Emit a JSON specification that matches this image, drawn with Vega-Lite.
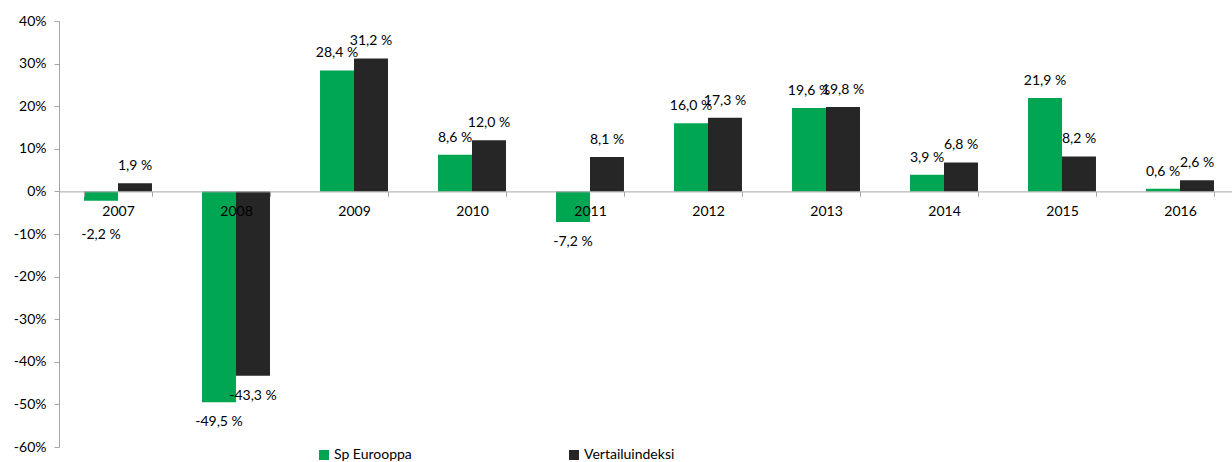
{
  "$schema": "https://vega.github.io/schema/vega-lite/v6.json",
  "autosize": {"type": "none"},
  "padding": {"left": 59, "top": 21, "right": 0, "bottom": 15},
  "width": 1180,
  "height": 426,
  "background": "white",
  "config": {
    "view": {"stroke": null},
    "font": "Lato",
    "text": {"font": "Lato", "fontSize": 14, "color": "#000000"}
  },
  "data": {
    "values": [
      {"year": "2007", "series": "Sp Eurooppa", "v": -2.2},
      {"year": "2007", "series": "Vertailuindeksi", "v": 1.9},
      {"year": "2008", "series": "Sp Eurooppa", "v": -49.5},
      {"year": "2008", "series": "Vertailuindeksi", "v": -43.3},
      {"year": "2009", "series": "Sp Eurooppa", "v": 28.4},
      {"year": "2009", "series": "Vertailuindeksi", "v": 31.2},
      {"year": "2010", "series": "Sp Eurooppa", "v": 8.6},
      {"year": "2010", "series": "Vertailuindeksi", "v": 12.0},
      {"year": "2011", "series": "Sp Eurooppa", "v": -7.2},
      {"year": "2011", "series": "Vertailuindeksi", "v": 8.1},
      {"year": "2012", "series": "Sp Eurooppa", "v": 16.0},
      {"year": "2012", "series": "Vertailuindeksi", "v": 17.3},
      {"year": "2013", "series": "Sp Eurooppa", "v": 19.6},
      {"year": "2013", "series": "Vertailuindeksi", "v": 19.8},
      {"year": "2014", "series": "Sp Eurooppa", "v": 3.9},
      {"year": "2014", "series": "Vertailuindeksi", "v": 6.8},
      {"year": "2015", "series": "Sp Eurooppa", "v": 21.9},
      {"year": "2015", "series": "Vertailuindeksi", "v": 8.2},
      {"year": "2016", "series": "Sp Eurooppa", "v": 0.6},
      {"year": "2016", "series": "Vertailuindeksi", "v": 2.6}
    ]
  },
  "transform": [
    {"calculate": "(datum.v < 0 ? '-' : '') + replace(format(abs(datum.v), '.1f'), '.', ',') + ' %'", "as": "label"}
  ],
  "encoding": {
    "x": {
      "field": "year", "type": "nominal", "sort": null,
      "scale": {"paddingInner": 0.424, "paddingOuter": 0.212},
      "axis": {
        "title": null, "orient": "bottom", "offset": -255.6,
        "labelAngle": 0, "labelFont": "Lato", "labelFontSize": 14, "labelColor": "#000000",
        "domainColor": "#A6A6A6", "tickColor": "#A6A6A6", "tickSize": 5,
        "tickBand": "extent", "labelPadding": 8, "zindex": 1
      }
    },
    "xOffset": {"field": "series", "type": "nominal", "sort": ["Sp Eurooppa", "Vertailuindeksi"], "scale": {"paddingInner": 0, "paddingOuter": 0}},
    "y": {
      "field": "v", "type": "quantitative",
      "scale": {"domain": [-60, 40], "nice": false},
      "axis": {
        "title": null, "values": [-60, -50, -40, -30, -20, -10, 0, 10, 20, 30, 40],
        "labelExpr": "round(datum.value) + '%'",
        "grid": false, "labelFont": "Lato", "labelFontSize": 14, "labelColor": "#000000",
        "domainColor": "#A6A6A6", "tickColor": "#A6A6A6", "tickSize": 5, "labelPadding": 8
      }
    }
  },
  "layer": [
    {
      "mark": {"type": "bar"},
      "encoding": {
        "color": {
          "field": "series", "type": "nominal",
          "scale": {"domain": ["Sp Eurooppa", "Vertailuindeksi"], "range": ["#00A651", "#262626"]},
          "legend": {
            "title": null, "orient": "none", "direction": "horizontal",
            "legendX": 258, "legendY": 427, "padding": 0,
            "symbolType": "square", "symbolSize": 100, "symbolStrokeWidth": 0,
            "labelFont": "Lato", "labelFontSize": 14, "labelColor": "#000000",
            "labelOffset": 3, "columnPadding": 155
          }
        }
      }
    },
    {
      "transform": [{"filter": "datum.v >= 0"}],
      "mark": {"type": "text", "baseline": "bottom", "dy": -10},
      "encoding": {"text": {"field": "label"}}
    },
    {
      "transform": [{"filter": "datum.v < 0"}, {"calculate": "min(datum.v, -5.5)", "as": "ly"}],
      "mark": {"type": "text", "baseline": "top", "dy": 13},
      "encoding": {"y": {"field": "ly", "type": "quantitative"}, "text": {"field": "label"}}
    }
  ]
}
